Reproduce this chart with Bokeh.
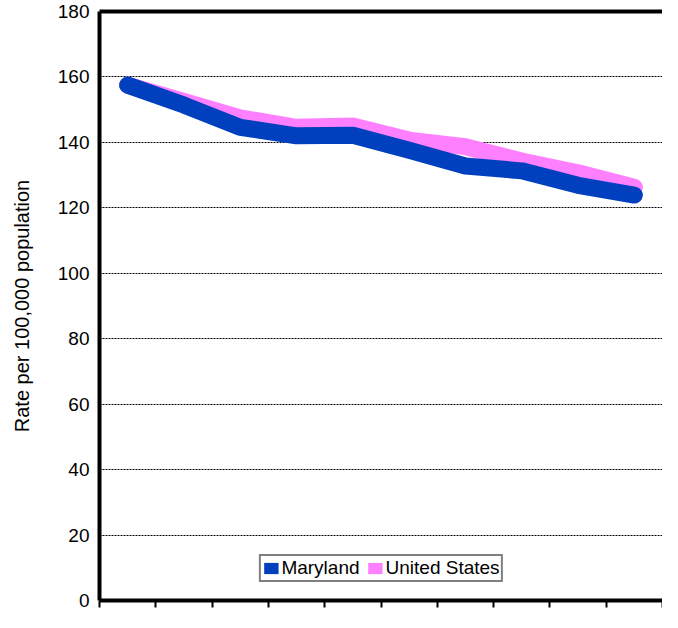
from bokeh.plotting import figure
from bokeh.models import Range1d, FixedTicker, Legend, LegendItem, ColumnDataSource, LinearAxis
from bokeh.embed import file_html
from bokeh.resources import INLINE

# Data
periods = list(range(10))
maryland = [157.5, 151.4, 144.6, 142.0, 142.2, 137.6, 132.8, 131.3, 126.9, 123.9]
united_states = [157.5, 152.5, 147.5, 144.6, 145.0, 140.7, 138.7, 134.3, 130.7, 126.3]
y_ticks = [0, 20, 40, 60, 80, 100, 120, 140, 160, 180]

MD_COLOR = "#0040BF"
US_COLOR = "#FF80FF"
FONT = "Liberation Sans"

xs = [p + 0.5 for p in periods]

p = figure(width=662, height=612, output_backend="svg", toolbar_location=None,
           x_range=Range1d(0, len(periods)), y_range=Range1d(0, 180),
           min_border_left=99, min_border_right=0, min_border_top=11, min_border_bottom=12)

p.background_fill_color = "white"
p.border_fill_color = "white"
p.outline_line_color = None

# Top border line
top = LinearAxis(ticker=FixedTicker(ticks=[]), axis_line_width=4, axis_line_color="black",
                 major_tick_line_color=None, minor_tick_line_color=None,
                 major_label_text_font_size="0px", major_tick_out=0, major_label_standoff=0)
p.add_layout(top, "above")

# Grid
p.xgrid.visible = False
p.ygrid.ticker = FixedTicker(ticks=y_ticks[1:-1])
p.ygrid.grid_line_color = "black"
p.ygrid.grid_line_dash = "2 1"
p.ygrid.grid_line_width = 1

# Y axis
p.yaxis.ticker = FixedTicker(ticks=y_ticks)
p.yaxis.axis_line_width = 4
p.yaxis.axis_line_color = "black"
p.yaxis.major_tick_line_color = None
p.yaxis.major_tick_out = 0
p.yaxis.major_tick_in = 0
p.yaxis.minor_tick_line_color = None
p.yaxis.major_label_text_font = FONT
p.yaxis.major_label_text_font_size = "19px"
p.yaxis.major_label_text_color = "black"
p.yaxis.major_label_standoff = 10
p.yaxis.axis_label = "Rate per 100,000 population"
p.yaxis.axis_label_text_font = FONT
p.yaxis.axis_label_text_font_size = "20px"
p.yaxis.axis_label_text_font_style = "normal"
p.yaxis.axis_label_text_color = "black"
p.yaxis.axis_label_standoff = 22

# X axis: boundary ticks only, labels cut off in the reference
p.xaxis.ticker = FixedTicker(ticks=list(range(len(periods) + 1)))
p.xaxis.axis_line_width = 4
p.xaxis.axis_line_color = "black"
p.xaxis.major_tick_line_width = 2
p.xaxis.major_tick_out = 7
p.xaxis.major_tick_in = 0
p.xaxis.minor_tick_line_color = None
p.xaxis.major_label_text_font_size = "0px"
p.xaxis.major_label_text_color = None

LW = 17
src = ColumnDataSource(dict(x=xs, md=maryland, us=united_states))
p.line("x", "us", source=src, line_color=US_COLOR, line_width=LW,
       line_cap="round", line_join="round")
p.line("x", "md", source=src, line_color=MD_COLOR, line_width=LW,
       line_cap="round", line_join="round")

# Legend swatches (not drawn in the plot, only used by the legend)
nan = float("nan")
md_sw = p.quad(left=[nan], right=[nan], top=[nan], bottom=[nan],
               fill_color=MD_COLOR, line_color=None)
us_sw = p.quad(left=[nan], right=[nan], top=[nan], bottom=[nan],
               fill_color=US_COLOR, line_color=None)

legend = Legend(items=[LegendItem(label="Maryland", renderers=[md_sw]),
                       LegendItem(label="United States", renderers=[us_sw])],
                orientation="horizontal", location="bottom_center",
                border_line_color="black", border_line_width=2,
                background_fill_color="white", background_fill_alpha=1,
                label_text_font=FONT, label_text_font_size="19px",
                label_text_color="black",
                glyph_width=18, glyph_height=14, label_standoff=2,
                spacing=6, padding=1, margin=18, label_height=17)
p.add_layout(legend, "center")

open("out.html", "w").write(file_html(p, INLINE))
